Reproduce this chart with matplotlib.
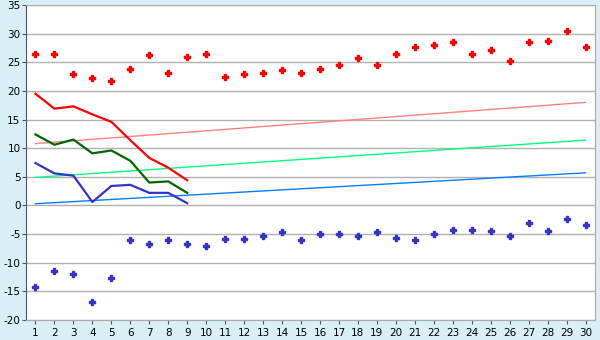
import matplotlib
matplotlib.use("Agg")
import matplotlib.pyplot as plt

plt.rcParams["axes.unicode_minus"] = False

days = list(range(1, 31))
max_vals = [26.4, 26.4, 22.9, 22.2, 21.7, 23.8, 26.2, 23.1, 25.9, 26.4,
            22.4, 22.9, 23.1, 23.6, 23.1, 23.8, 24.5, 25.7, 24.6, 26.4,
            27.6, 28.0, 28.5, 26.4, 27.1, 25.2, 28.5, 28.7, 30.4, 27.6]
min_vals = [-14.3, -11.5, -12.0, -16.9, -12.7, -6.1, -6.8, -6.1, -6.8, -7.0,
            -5.9, -5.9, -5.4, -4.7, -6.1, -5.0, -5.0, -5.4, -4.7, -5.6,
            -6.1, -5.0, -4.3, -4.2, -4.5, -5.4, -3.1, -4.5, -2.4, -3.5]
line_days = list(range(1, 10))
red_line = [19.5, 16.9, 17.3, 15.9, 14.6, 11.4, 8.3, 6.6, 4.4]
green_line = [12.4, 10.6, 11.5, 9.1, 9.6, 7.8, 4.0, 4.2, 2.2]
blue_line = [7.4, 5.6, 5.2, 0.6, 3.4, 3.6, 2.2, 2.2, 0.4]
trend_x = [1, 30]
red_trend = [10.8, 18.0]
green_trend = [4.9, 11.4]
blue_trend = [0.3, 5.7]
y_ticks = list(range(-20, 40, 5))

fig = plt.figure(figsize=(6, 3.4), dpi=100)
fig.patch.set_facecolor("#d9eff6")
ax = fig.add_axes([26/600, 1-320/340, (595-26)/600, (320-5)/340])
ax.set_facecolor("white")

ax.plot(trend_x, red_trend, color="#ff8080", lw=1.0, zorder=2)
ax.plot(trend_x, green_trend, color="#00ff80", lw=1.0, zorder=2)
ax.plot(trend_x, blue_trend, color="#0080ff", lw=1.0, zorder=2)

ax.plot(line_days, red_line, color="#ff0000", lw=1.6, zorder=3)
ax.plot(line_days, green_line, color="#006600", lw=1.6, zorder=3)
ax.plot(line_days, blue_line, color="#3333cc", lw=1.6, zorder=3)

ax.plot(days, max_vals, ls="none", marker="P", ms=4.5, color="#ff0000",
        mec="#ff0000", zorder=4)
ax.plot(days, min_vals, ls="none", marker="P", ms=4.5, color="#3333cc",
        mec="#3333cc", zorder=4)

ax.set_xlim(0.5, 30.5)
ax.set_ylim(-20, 35)
ax.set_yticks(y_ticks)
ax.set_xticks(days)
ax.grid(axis="y", color="#b0b0b0", lw=1.0)
ax.set_axisbelow(True)
for s in ["top", "right", "bottom"]:
    ax.spines[s].set_color("#aaaaaa")
ax.spines["left"].set_color("#555555")
ax.tick_params(axis="both", labelsize=7.5, colors="#000000", color="#555555",
               length=3, width=0.8)
ax.tick_params(axis="y", pad=1)
ax.tick_params(axis="x", pad=3)

fig.savefig("out.png", dpi=100, facecolor=fig.get_facecolor())
